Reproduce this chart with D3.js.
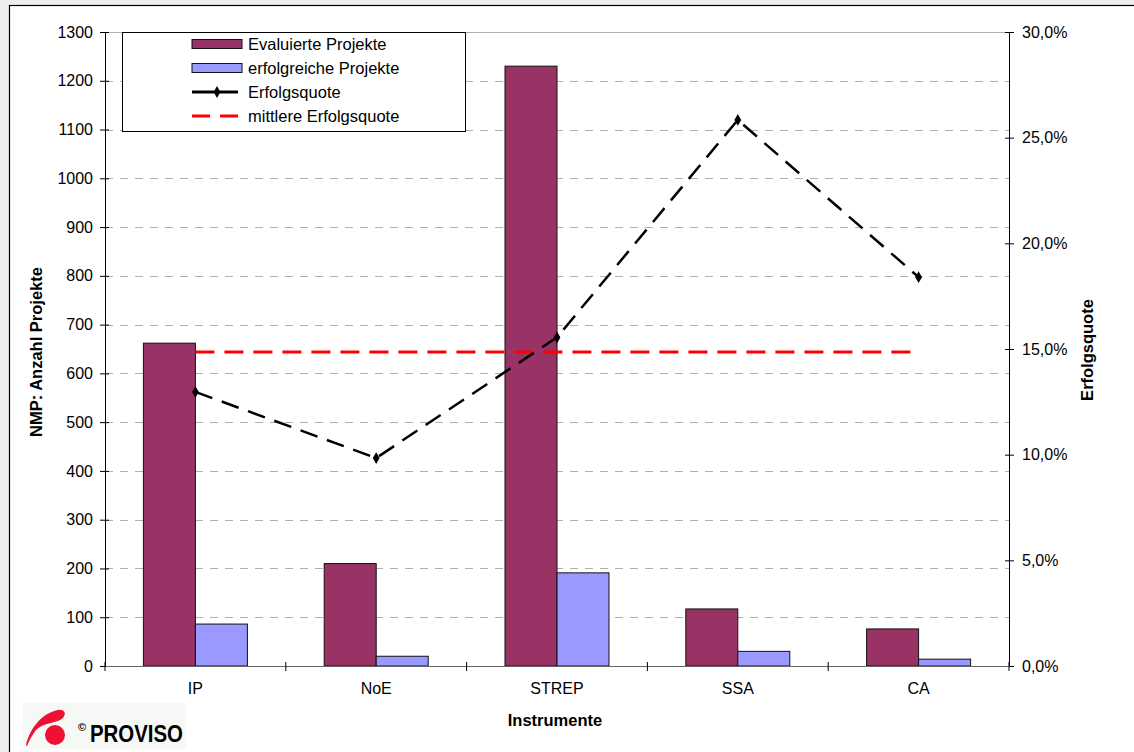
<!DOCTYPE html>
<html>
<head>
<meta charset="utf-8">
<script src="https://cdn.jsdelivr.net/npm/d3@7"></script>
<style>
  html, body { margin: 0; padding: 0; background: #eeeeee; }
  svg { display: block; }
  text { font-family: "Liberation Sans", Arial, sans-serif; fill: #000; }
</style>
</head>
<body>
<svg id="chart" width="1134" height="752"></svg>
<script>
// Projects per instrument (NMP)
const categories = ["IP", "NoE", "STREP", "SSA", "CA"];
const evaluated  = [662, 210, 1230, 117, 76];
const successful = [86, 20, 191, 30, 14];
const successRate = [0.1297, 0.0984, 0.1555, 0.2584, 0.184];
const meanRate = 0.1486;
const leftTicks = d3.range(0, 1301, 100);
const rightTicks = [0, 0.05, 0.10, 0.15, 0.20, 0.25, 0.30];
const seriesNames = ["Evaluierte Projekte", "erfolgreiche Projekte", "Erfolgsquote", "mittlere Erfolgsquote"];

const colors = { evaluated: "#993366", successful: "#9999ff", rate: "#000000", mean: "#ff0000" };
const FONT = "'Liberation Sans', Arial, sans-serif";

const svg = d3.select("#chart");

// white sheet with a black frame along top and left
svg.append("rect").attr("x", 9.5).attr("y", 5.5).attr("width", 1200).attr("height", 800)
  .attr("fill", "#ffffff").attr("stroke", "#000").attr("stroke-width", 1.2);

const plot = { left: 105, right: 1009, top: 32, bottom: 666 };

const x = d3.scaleBand().domain(categories).range([plot.left, plot.right]).padding(0);
const y = d3.scaleLinear().domain([0, 1300]).range([plot.bottom, plot.top]);
const yR = d3.scaleLinear().domain([0, 0.30]).range([plot.bottom, plot.top]);
const groupW = 104;
const x1 = d3.scaleBand().domain(["evaluated", "successful"]).range([0, groupW]).padding(0);

// horizontal gridlines
svg.append("g").selectAll("line").data(leftTicks.filter(t => t > 0)).join("line")
  .attr("x1", plot.left).attr("x2", plot.right)
  .attr("y1", d => Math.round(y(d)) + 0.5).attr("y2", d => Math.round(y(d)) + 0.5)
  .attr("stroke", "#b0b0b0").attr("stroke-width", 1)
  .attr("stroke-dasharray", d => d === 1300 ? null : "8,7");

// bars
const groups = svg.append("g").selectAll("g").data(categories).join("g")
  .attr("transform", d => `translate(${x(d) + x.bandwidth() / 2 - groupW / 2},0)`);
groups.append("rect")
  .attr("x", x1("evaluated")).attr("width", x1.bandwidth())
  .attr("y", (d, i) => y(evaluated[i])).attr("height", (d, i) => y(0) - y(evaluated[i]))
  .attr("fill", colors.evaluated).attr("stroke", "#111").attr("stroke-width", 1);
groups.append("rect")
  .attr("x", x1("successful")).attr("width", x1.bandwidth())
  .attr("y", (d, i) => y(successful[i])).attr("height", (d, i) => y(0) - y(successful[i]))
  .attr("fill", colors.successful).attr("stroke", "#111").attr("stroke-width", 1);

// axes
const fmtPct = v => d3.format(".1f")(v * 100).replace(".", ",") + "%";

const gL = svg.append("g").attr("transform", `translate(${plot.left},0)`)
  .call(d3.axisLeft(y).tickValues(leftTicks).tickFormat(d3.format("d")).tickSize(5).tickSizeOuter(0).tickPadding(7));
gL.selectAll(".tick line").attr("x2", 4).attr("x1", -5);

const gR = svg.append("g").attr("transform", `translate(${plot.right},0)`)
  .call(d3.axisRight(yR).tickValues(rightTicks).tickFormat(fmtPct).tickSize(5).tickSizeOuter(0).tickPadding(8));
gR.selectAll(".tick line").attr("x1", -4).attr("x2", 5);

const gB = svg.append("g").attr("transform", `translate(0,${plot.bottom})`)
  .call(d3.axisBottom(x).tickSize(0).tickSizeOuter(0).tickPadding(17));
gB.selectAll(".boundary").data(d3.range(categories.length + 1)).join("line")
  .attr("class", "boundary")
  .attr("x1", i => plot.left + i * x.step()).attr("x2", i => plot.left + i * x.step())
  .attr("y1", -4).attr("y2", 5).attr("stroke", "#000");

[gL, gR, gB].forEach(g => {
  g.selectAll("text").attr("font-size", 16).attr("font-family", FONT).attr("fill", "#000");
  g.select(".domain").attr("stroke", "#000");
});
gB.select(".domain").attr("stroke", "#666");

// mean success rate
const cx = d => x(d) + x.bandwidth() / 2;
svg.append("line")
  .attr("x1", cx(categories[0])).attr("x2", cx(categories[categories.length - 1]))
  .attr("y1", yR(meanRate)).attr("y2", yR(meanRate))
  .attr("stroke", colors.mean).attr("stroke-width", 3).attr("stroke-dasharray", "19,10");

// success rate line with diamond markers
const rateData = categories.map((c, i) => ({ c, v: successRate[i] }));
svg.append("path").datum(rateData)
  .attr("d", d3.line().x(d => cx(d.c)).y(d => yR(d.v)))
  .attr("fill", "none").attr("stroke", colors.rate).attr("stroke-width", 2.5)
  .attr("stroke-dasharray", "18,10");
svg.append("g").selectAll("path").data(rateData).join("path")
  .attr("d", d3.symbol(d3.symbolDiamond, 40))
  .attr("transform", d => `translate(${cx(d.c)},${yR(d.v)})`)
  .attr("fill", "#000");

// axis titles
svg.append("text").attr("transform", "translate(42,352) rotate(-90)")
  .attr("text-anchor", "middle").attr("font-size", 16.5).attr("font-weight", "bold")
  .text("NMP: Anzahl Projekte");
svg.append("text").attr("transform", "translate(1093,350) rotate(-90)")
  .attr("text-anchor", "middle").attr("font-size", 16.5).attr("font-weight", "bold")
  .text("Erfolgsquote");
svg.append("text").attr("x", 555).attr("y", 726)
  .attr("text-anchor", "middle").attr("font-size", 16.5).attr("font-weight", "bold")
  .text("Instrumente");

// legend
const leg = svg.append("g");
leg.append("rect").attr("x", 122.5).attr("y", 32.5).attr("width", 343).attr("height", 99)
  .attr("fill", "#fff").attr("stroke", "#000");
const rowY = i => 44 + i * 24;
leg.append("rect").attr("x", 192).attr("y", rowY(0) - 4.5).attr("width", 50).attr("height", 9)
  .attr("fill", colors.evaluated).attr("stroke", "#111");
leg.append("rect").attr("x", 192).attr("y", rowY(1) - 4.5).attr("width", 50).attr("height", 9)
  .attr("fill", colors.successful).attr("stroke", "#111");
leg.append("line").attr("x1", 192).attr("x2", 238).attr("y1", rowY(2)).attr("y2", rowY(2))
  .attr("stroke", "#000").attr("stroke-width", 3);
leg.append("path").attr("d", d3.symbol(d3.symbolDiamond, 40))
  .attr("transform", `translate(217,${rowY(2)})`).attr("fill", "#000");
leg.append("line").attr("x1", 192).attr("x2", 238).attr("y1", rowY(3)).attr("y2", rowY(3))
  .attr("stroke", colors.mean).attr("stroke-width", 3).attr("stroke-dasharray", "18,10");
leg.selectAll("text.lbl").data(seriesNames).join("text").attr("class", "lbl")
  .attr("x", 248).attr("y", (d, i) => rowY(i) + 6).attr("font-size", 16.5).text(d => d);

// PROVISO logo
const logo = svg.append("g");
logo.append("rect").attr("x", 23).attr("y", 703).attr("width", 163).attr("height", 46).attr("fill", "#f6f8f6");
logo.append("path")
  .attr("d", "M26,745 C30,728 42,713 58,710 C64,709 67,713 63,718 C56,724 44,722 36,730 C32,735 29,741 27,746 Z")
  .attr("fill", "#ee1133");
logo.append("circle").attr("cx", 55).attr("cy", 735).attr("r", 10).attr("fill", "#ee1133");
logo.append("text").attr("x", 78).attr("y", 731).attr("font-size", 11).attr("font-weight", "bold").attr("fill", "#222").text("©");
logo.append("text").attr("x", 90).attr("y", 742).attr("font-size", 23).attr("font-weight", "bold")
  .attr("textLength", 93).attr("lengthAdjust", "spacingAndGlyphs")
  .attr("fill", "#111").text("PROVISO");
</script>
</body>
</html>
